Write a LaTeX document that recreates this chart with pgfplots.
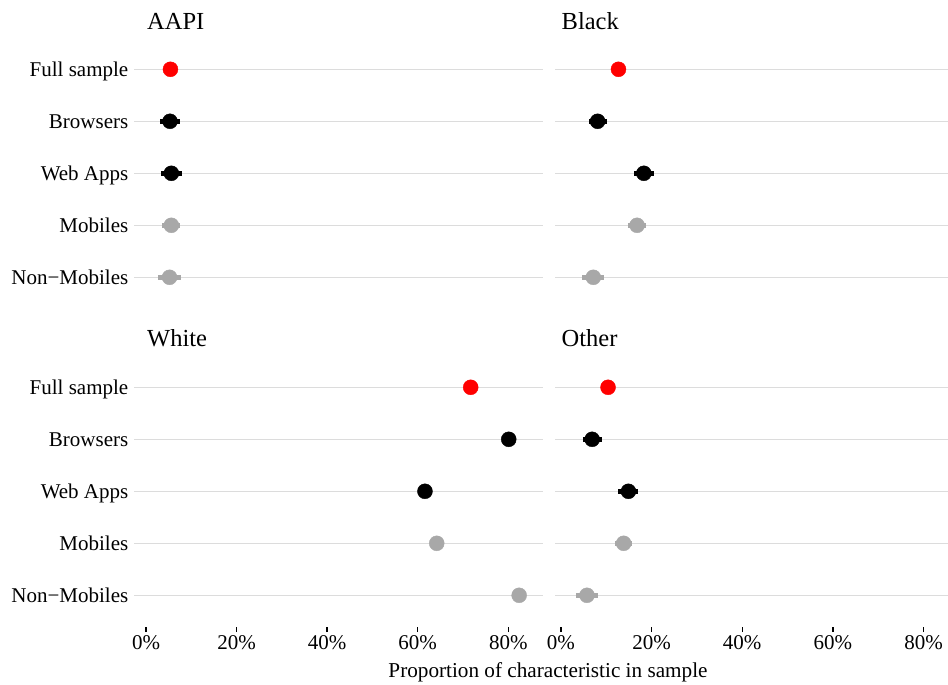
\documentclass[border=0pt]{standalone}
\usepackage{pgfplots}
\pgfplotsset{compat=1.18}
\usepackage{fontspec}
\setmainfont{Liberation Serif}
\definecolor{ptred}{RGB}{255,0,0}
\definecolor{ptgray}{RGB}{168,168,168}
\definecolor{gridgray}{RGB}{220,220,220}
\pgfplotsset{
  dots/.style={only marks, mark=*, mark size=7.5bp, color=#1, mark options={draw=none, fill=#1},
    error bars/.cd, x dir=both, x explicit, error mark=none,
    error bar style={line width=4.6bp, color=#1}},
  panel/.style={
    scale only axis, anchor=south west, height=270.4bp,
    ymin=0.4, ymax=5.6, y dir=reverse, ytick={1,2,3,4,5},
    ymajorgrids, grid style={gridgray, line width=0.9bp},
    axis line style={draw=none}, ytick style={draw=none},
    xtick pos=lower, ytick pos=left,
    xtick={0,20,40,60,80},
    xticklabels={0\%,20\%,40\%,60\%,80\%},
    tick align=outside, major tick length=5.5bp,
    xtick style={black, line width=1.3bp},
    tick label style={font=\fontsize{21bp}{25bp}\selectfont},
    yticklabel style={inner sep=0pt, anchor=base east, yshift=-6.9bp},
    clip=false,
  },
  leftp/.style={panel, width=408.7bp, xmin=-2.65, xmax=87.6,
    yticklabels={Full sample,Browsers,Web Apps,Mobiles,Non−Mobiles}},
  rightp/.style={panel, width=393bp, xmin=-1.3, xmax=85.4, yticklabels={}},
  topp/.style={xticklabels={}, xtick style={draw=none}},
}
\begin{document}
\begin{tikzpicture}
\useasboundingbox (0,0) rectangle (948bp,685bp);
% AAPI
\begin{axis}[leftp, topp, at={(134bp,376.5bp)}]
\addplot[dots=ptred] coordinates {(5.4,1)};
\addplot[dots=black] coordinates {(5.3,2) +- (2.1,0) (5.6,3) +- (2.3,0)};
\addplot[dots=ptgray] coordinates {(5.6,4) +- (2.0,0) (5.2,5) +- (2.5,0)};
\end{axis}
% Black
\begin{axis}[rightp, topp, at={(555bp,376.5bp)}]
\addplot[dots=ptred] coordinates {(12.7,1)};
\addplot[dots=black] coordinates {(8.1,2) +- (2.0,0) (18.3,3) +- (2.15,0)};
\addplot[dots=ptgray] coordinates {(16.8,4) +- (1.9,0) (7.15,5) +- (2.45,0)};
\end{axis}
% White
\begin{axis}[leftp, at={(134bp,58.5bp)}]
\addplot[dots=ptred] coordinates {(71.7,1)};
\addplot[dots=black] coordinates {(80.1,2) +- (1.0,0) (61.6,3) +- (1.0,0)};
\addplot[dots=ptgray] coordinates {(64.2,4) +- (1.0,0) (82.4,5) +- (1.0,0)};
\end{axis}
% Other
\begin{axis}[rightp, at={(555bp,58.5bp)}]
\addplot[dots=ptred] coordinates {(10.4,1)};
\addplot[dots=black] coordinates {(6.9,2) +- (2.1,0) (14.9,3) +- (2.2,0)};
\addplot[dots=ptgray] coordinates {(13.85,4) +- (1.85,0) (5.75,5) +- (2.35,0)};
\end{axis}
\begin{scope}[every node/.style={inner sep=0pt, font=\fontsize{24.5bp}{28bp}\selectfont}]
\node[anchor=base west] at (147bp,655.7bp) {AAPI};
\node[anchor=base west] at (561.5bp,655.7bp) {Black};
\node[anchor=base west] at (147bp,338.3bp) {White};
\node[anchor=base west] at (561.5bp,338.3bp) {Other};
\end{scope}
\node[anchor=base, inner sep=0pt, font=\fontsize{21.2bp}{25bp}\selectfont] at (548bp,7.7bp) {Proportion of characteristic in sample};
\end{tikzpicture}
\end{document}
